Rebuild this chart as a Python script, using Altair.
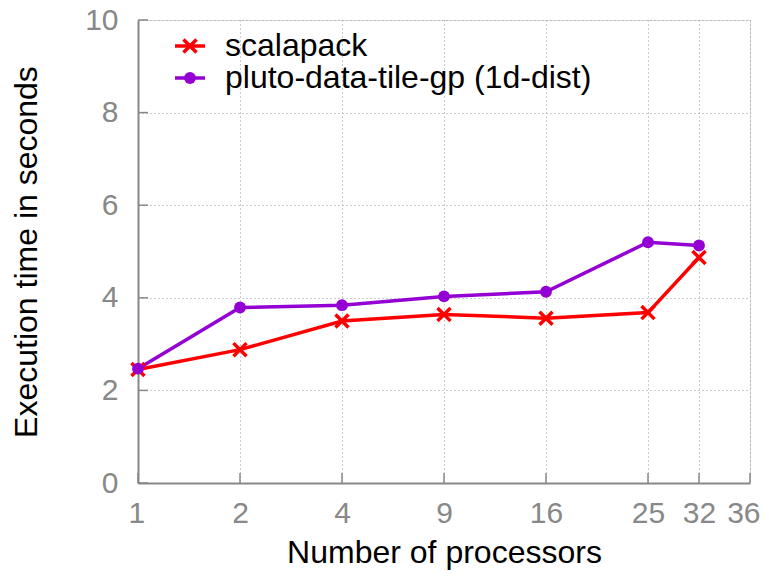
import altair as alt
import pandas as pd

procs = [1, 2, 4, 9, 16, 25, 32]
xpos = [1, 2, 3, 4, 5, 6, 6.5]
scalapack = [2.45, 2.88, 3.50, 3.64, 3.56, 3.68, 4.87]
pluto = [2.47, 3.79, 3.84, 4.03, 4.13, 5.20, 5.13]
tick_pos = [1, 2, 3, 4, 5, 6, 6.5, 7]
tick_lab = ["1", "2", "4", "9", "16", "25", "32", "36"]
ytick = [0, 2, 4, 6, 8, 10]
series = ["scalapack", "pluto-data-tile-gp (1d-dist)"]
colors = ["#ff0000", "#9400d3"]

rows = []
for i in range(len(procs)):
    rows.append({"pos": xpos[i], "procs": procs[i], "series": series[0], "t": scalapack[i]})
    rows.append({"pos": xpos[i], "procs": procs[i], "series": series[1], "t": pluto[i]})
df = pd.DataFrame(rows)

label_expr = "{" + ",".join(f"'{p}':'{l}'" for p, l in zip(tick_pos, tick_lab)) + "}[toString(datum.value)]"

FONT = "Liberation Sans"
XSHAPE = "M-1,-1L1,1M-1,1L1,-1"
xs = alt.Scale(domain=[1, 7], nice=False, zero=False)
ys = alt.Scale(domain=[0, 10], nice=False)
x = alt.X("pos:Q", scale=xs,
          axis=alt.Axis(values=tick_pos, labelExpr=label_expr, title="Number of processors",
                        grid=True, gridDash=[1, 3], gridColor="#999999",
                        ticks=False, labelFlush=True, labelFlushOffset=10, labelOverlap=False,
                        domainColor="#888888", domainWidth=2,
                        labelColor="#888888", labelFontSize=30, labelFont=FONT, labelPadding=15,
                        titleFont=FONT, titleFontSize=32, titleFontWeight="normal",
                        titleColor="#000000", titlePadding=9))
y = alt.Y("t:Q", scale=ys,
          axis=alt.Axis(values=ytick, title="Execution time in seconds",
                        grid=True, gridDash=[1, 3], gridColor="#999999",
                        ticks=False, labelFlush=False, labelOverlap=False,
                        domainColor="#888888", domainWidth=2,
                        labelColor="#888888", labelFontSize=30, labelFont=FONT, labelPadding=20,
                        titleFont=FONT, titleFontSize=32, titleFontWeight="normal",
                        titleColor="#000000", titlePadding=41))

base = alt.Chart(df)
lines = base.mark_line(strokeWidth=3.5).encode(
    x=x, y=y,
    color=alt.Color("series:N", scale=alt.Scale(domain=series, range=colors), legend=None),
    detail="series:N")
pts_s = base.transform_filter(alt.datum.series == series[0]).mark_point(
    shape=XSHAPE, filled=False, size=170, strokeWidth=3.5, color=colors[0], opacity=1).encode(
    x=alt.X("pos:Q", scale=xs), y=alt.Y("t:Q", scale=ys))
pts_p = base.transform_filter(alt.datum.series == series[1]).mark_circle(
    size=140, color=colors[1], opacity=1).encode(
    x=alt.X("pos:Q", scale=xs), y=alt.Y("t:Q", scale=ys))

# inward ticks
xt = alt.Chart(pd.DataFrame({"pos": tick_pos})).mark_rule(color="#888888", strokeWidth=1.5).encode(
    x=alt.X("pos:Q", scale=xs), y=alt.value(463), y2=alt.value(453))
yt = alt.Chart(pd.DataFrame({"t": ytick})).mark_rule(color="#888888", strokeWidth=1.5).encode(
    y=alt.Y("t:Q", scale=ys), x=alt.value(0), x2=alt.value(10))

# legend
def leg_row(i, ypx):
    d = alt.Chart(pd.DataFrame({"series": [series[i]]}))
    ln = d.mark_rule(strokeWidth=3.5, color=colors[i]).encode(x=alt.value(37), x2=alt.value(67), y=alt.value(ypx))
    if i == 0:
        mk = d.mark_point(shape=XSHAPE, filled=False, size=170, strokeWidth=3.5, color=colors[i], opacity=1).encode(
            x=alt.value(52), y=alt.value(ypx))
    else:
        mk = d.mark_circle(size=140, color=colors[i], opacity=1).encode(x=alt.value(52), y=alt.value(ypx))
    tx = d.mark_text(align="left", baseline="middle", font=FONT, fontSize=32, color="black").encode(
        x=alt.value(87), y=alt.value(ypx), text="series:N")
    return [ln, mk, tx]

chart = alt.layer(lines, pts_s, pts_p, xt, yt, *leg_row(0, 26), *leg_row(1, 58)).properties(
    width=612, height=463,
    autosize=alt.AutoSizeParams(type="none"),
    padding={"left": 130, "top": 12, "right": 11, "bottom": 93},
).configure_view(stroke=None).configure(background="white")

chart.save("out.html", embed_options={"renderer": "svg", "actions": False})
